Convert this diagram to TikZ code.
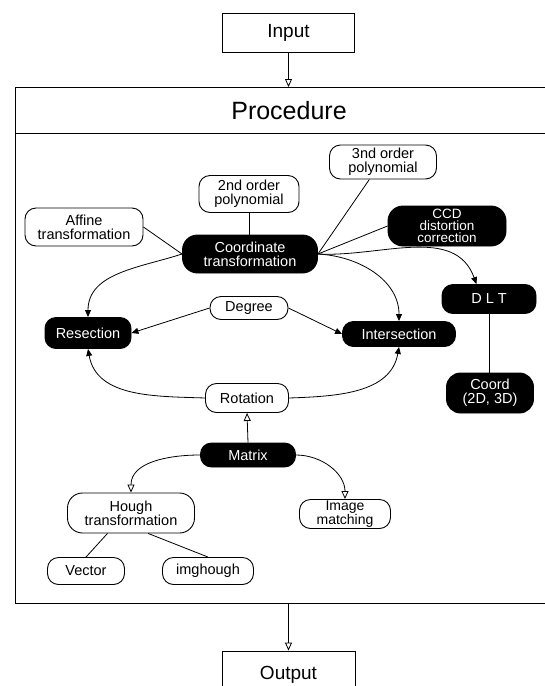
\documentclass[tikz,border=0pt]{standalone}
\usepackage{fontspec}
\setmainfont{Liberation Sans}
\usetikzlibrary{arrows.meta,calc}

\tikzset{
  wbox/.style={draw, fill=white, line width=0.9pt, rounded corners=11pt, inner sep=0pt, align=center, font=\fontsize{14.5}{14}\selectfont},
  bbox/.style={wbox, fill=black, text=white},
  iobox/.style={draw, line width=0.9pt, inner sep=0pt, font=\fontsize{19}{21}\selectfont},
  conn/.style={line width=0.8pt},
  arr/.style={conn, -{Triangle[length=7pt,width=6pt]}},
  oarr/.style={conn, -{Triangle[open,length=8pt,width=7pt]}}
}

\begin{document}
\begin{tikzpicture}[x=1pt,y=-1pt]
  \useasboundingbox (0,0) rectangle (545,686);
  % Procedure frame
  \draw[line width=0.9pt] (545,87) -- (15,87) -- (15,603) -- (545,603);
  \draw[line width=0.9pt] (15,133) -- (545,133);
  \node[font=\fontsize{25}{27}\selectfont] (proctitle) at (289,111) {Procedure};
  \coordinate (ptop) at (288.5,87);
  \coordinate (pbot) at (288.5,603);
  % Input / Output
  \node[iobox, minimum width=132pt, minimum height=39pt] (input) at (288.5,32.5) {Input};
  \node[iobox, minimum width=133pt, minimum height=48pt] (output) at (288.5,675) {Output};
  % Coordinate transformation group
  \node[wbox, minimum width=100pt, minimum height=37pt] (nd2) at (249,194) {2nd order\\polynomial};
  \node[wbox, minimum width=107pt, minimum height=34pt] (nd3) at (383,162) {3nd order\\polynomial};
  \node[wbox, minimum width=118pt, minimum height=38pt] (affine) at (84,227) {Affine\\transformation};
  \node[bbox, minimum width=135pt, minimum height=38pt, rounded corners=15pt] (coord) at (250,254) {Coordinate\\transformation};
  \node[bbox, minimum width=118pt, minimum height=40pt, rounded corners=15pt, font=\fontsize{13.5}{12}\selectfont] (ccd) at (447,226) {CCD\\distortion\\correction};
  % Middle row
  \node[wbox, minimum width=78pt, minimum height=23pt] (degree) at (249,308) {Degree};
  \node[bbox, minimum width=86pt, minimum height=31pt] (resection) at (88,333) {Resection};
  \node[bbox, minimum width=113pt, minimum height=25pt] (intersection) at (399,334) {Intersection};
  \node[bbox, minimum width=94pt, minimum height=29pt] (dlt) at (489,299) {D L T};
  \node[bbox, minimum width=87pt, minimum height=40pt, rounded corners=14pt] (coordxy) at (490,393) {Coord\\(2D, 3D)};
  \node[wbox, minimum width=83pt, minimum height=29pt] (rotation) at (247,398) {Rotation};
  \node[bbox, minimum width=95pt, minimum height=24pt] (matrix) at (248,455) {Matrix};
  % Bottom group
  \node[wbox, minimum width=127pt, minimum height=40pt, rounded corners=15pt] (hough) at (131,513) {Hough\\transformation};
  \node[wbox, minimum width=91pt, minimum height=29pt, font=\fontsize{14}{12}\selectfont] (imgmatch) at (345,514) {Image\\matching};
  \node[wbox, minimum width=77pt, minimum height=27pt] (vector) at (86,571) {Vector};
  \node[wbox, minimum width=91pt, minimum height=27pt] (imghough) at (208,571) {imghough};
  % Plain links
  \draw[conn] (affine.east) -- (coord.west);
  \draw[conn] (nd2.south) -- (nd2.south |- coord.north);
  \draw[conn] (nd3.-128) -- (coord.east);
  \draw[conn] (ccd.west) -- (coord.east);
  \draw[conn] (dlt.south) -- (dlt.south |- coordxy.north);
  \draw[conn] (hough.-139) -- (vector.north);
  \draw[conn] (hough.-50) -- (imghough.north);
  % Arrows
  \draw[oarr] (input.south) -- (ptop);
  \draw[oarr] (pbot) -- (output.north);
  \draw[arr] (coord.west) to[out=198,in=90] (resection.north);
  \draw[arr] (coord.east) to[out=-3,in=90] (intersection.north);
  \draw[arr] (coord.east) to[out=-3,in=110] (dlt.130);
  \draw[arr] (degree.west) -- (resection.east);
  \draw[arr] (degree.east) -- (intersection.west);
  \draw[arr] (rotation.west) to[out=178,in=-80] (resection.south);
  \draw[arr] (rotation.east) to[out=2,in=-100] (intersection.south);
  \draw[oarr] (matrix.north) -- (rotation.south);
  \draw[oarr] (matrix.west) to[out=180,in=90] (hough.north);
  \draw[oarr] (matrix.east) to[out=0,in=90] (imgmatch.north);
\end{tikzpicture}
\end{document}
